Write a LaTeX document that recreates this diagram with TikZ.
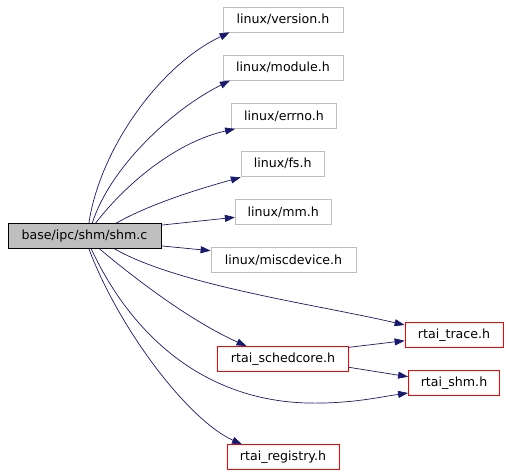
\documentclass[tikz,border=0pt]{standalone}
\usepackage{fontspec}
\setmainfont{DejaVu Sans}
\usetikzlibrary{arrows.meta,calc}
\definecolor{edgeblue}{HTML}{191970}
\definecolor{boxgray}{HTML}{BFBFBF}
\begin{document}
\begin{tikzpicture}[x=1pt,y=-1pt,
  box/.style={draw=boxgray,line width=0.8pt,inner sep=0pt,font=\fontsize{12.6}{15}\selectfont,minimum height=25pt},
  redbox/.style={box,draw=red},
  mainbox/.style={box,draw=black,fill=boxgray},
  dep/.style={draw=edgeblue,line width=0.7pt,-{Triangle[length=10pt,width=7pt]}}]
\useasboundingbox (0,0) rectangle (509,475);
\node[mainbox,minimum width=153pt] (shm) at (84.5,236) {base/ipc/shm/shm.c};
\node[box,minimum width=120pt] (ver) at (283,19.5) {linux/version.h};
\node[box,minimum width=120pt] (mod) at (283,67.7) {linux/module.h};
\node[box,minimum width=105pt] (err) at (284,116) {linux/errno.h};
\node[box,minimum width=83pt] (fs) at (282.7,163.7) {linux/fs.h};
\node[box,minimum width=96pt] (mm) at (283.3,212) {linux/mm.h};
\node[box,minimum width=145pt] (misc) at (283.5,260) {linux/miscdevice.h};
\node[redbox,minimum width=98pt] (trace) at (454,335) {rtai\_trace.h};
\node[redbox,minimum width=131pt] (sched) at (283,359) {rtai\_schedcore.h};
\node[redbox,minimum width=91pt] (rshm) at (454,383) {rtai\_shm.h};
\node[redbox,minimum width=112pt] (reg) at (283,457.3) {rtai\_registry.h};

\draw[dep] ($(shm.north west)+(81.3,0)$) .. controls +(11,-74) and +(-70,33) .. ($(ver.south west)+(7,0)$);
\draw[dep] ($(shm.north west)+(84.7,0)$) .. controls +(17,-54) and +(-60,30) .. ($(mod.south west)+(7.3,0)$);
\draw[dep] ($(shm.north west)+(88,0)$) .. controls +(34,-44) and +(-55,12) .. ($(err.south west)+(4,0)$);
\draw[dep] ($(shm.north west)+(108.7,0)$) .. controls +(33,-19) and +(-40,11) .. ($(fs.south west)+(0,0.7)$);
\draw[dep] ($(shm.north east)+(0,2)$) -- ($(mm.west)+(0,5.3)$);
\draw[dep] ($(shm.south east)+(0,-3)$) -- ($(misc.west)+(0,-9.3)$);
\draw[dep] ($(shm.south west)+(107,0)$) .. controls +(65,37) and +(-85,-20) .. ($(trace.west)+(0,-10)$);
\draw[dep] ($(shm.south west)+(92,0)$) .. controls +(50,42) and +(-47,-21) .. ($(sched.north west)+(29.4,0)$);
\draw[dep] ($(shm.south west)+(83.7,0)$) .. controls +(38,82) and +(-107,-3) .. (307,403) .. controls +(43,1) and +(-28,4) .. ($(rshm.west)+(0,10)$);
\draw[dep] ($(shm.south west)+(81.3,0)$) .. controls +(31,82) and +(-53,-24) .. ($(reg.north west)+(15.4,0)$);
\draw[dep] ($(sched.east)+(0,-11.7)$) -- ($(trace.west)+(0,5.7)$);
\draw[dep] ($(sched.east)+(0,8.3)$) -- ($(rshm.west)+(0,-6.3)$);
\end{tikzpicture}
\end{document}
